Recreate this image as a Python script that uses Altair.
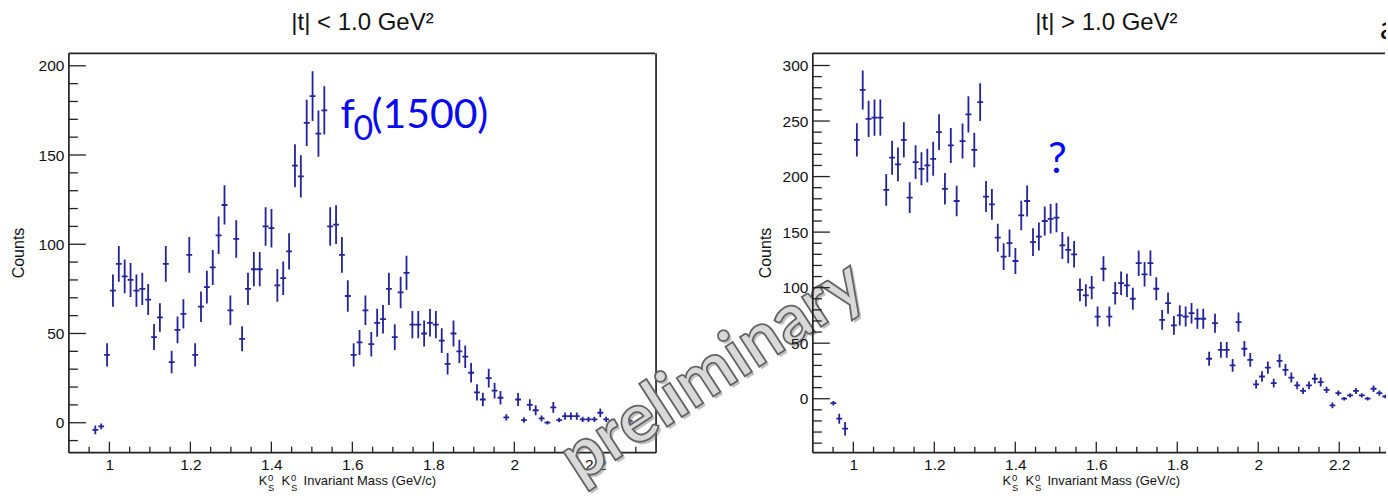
import altair as alt
import pandas as pd

# K0s K0s invariant-mass histogram binning (GeV/c)
BIN_LO = 0.9
BIN_WIDTH = 0.0145

# |t| < 1.0 GeV^2 : bin contents and errors, first entry is bin 4 (None = empty bin)
LOW_T_FIRST_BIN = 4
LOW_T_COUNTS = [
    -4, -2, 38, 74, 89, 82, 80, 74, 75, 69,
    48, 59, 89, 34, 52, 61, 94, 38, 65, 76,
    87, 105, 122, 63, 103, 47, 75, 86, 86, 110,
    109, 77, 81, 96, 144, 138, 168, 183, 162, 175,
    110, 111, 94, 71, 38, 45, 63, 44, 56, 58,
    75, 48, 73, 84, 55, 55, 50, 56, 55, 46,
    33, 50, 40, 37, 28, 17, 13, 25, 18, 14,
    3, None, 13, 1.5, 10, 7, 2.4, 0, 8.6, 1.5,
    3.7, 3.7, 3.7, 1.9, 1.9, 1.9, 5.6, 1.9, 1, None,
    None, 1,
]
LOW_T_ERRORS = [
    2.5, 1.6, 6.5, 9, 10, 9.5, 9.5, 9, 9, 8.7,
    7.3, 8, 10, 6.3, 7.5, 8.2, 10, 6.5, 8.5, 9.2,
    9.8, 10.5, 11, 8.3, 10.5, 7, 9, 9.6, 9.6, 10.8,
    10.8, 9.2, 9.4, 10.2, 12, 11.8, 13, 14, 13, 13.5,
    10.8, 10.8, 10, 8.8, 6.5, 7, 8.3, 6.9, 7.8, 8,
    9, 7.2, 8.8, 9.5, 7.6, 7.6, 7.3, 7.7, 7.6, 7,
    6, 7.3, 6.5, 6.3, 5.5, 4.5, 3.8, 5.2, 4.4, 3.8,
    1.8, None, 3.6, 1.5, 3.2, 2.8, 1.7, 1, 3, 1.3,
    2, 2, 2, 1.5, 1.5, 1.5, 2.4, 1.5, 1.2, None,
    None, 1.2,
]

# |t| > 1.0 GeV^2 : first entry is bin 3
HIGH_T_FIRST_BIN = 3
HIGH_T_COUNTS = [
    -4, -18, -27, None, 233, 278, 252, 253, 253, 188,
    217, 211, 233, 181, 213, 207, 210, 216, 240, 189,
    228, 178, 232, 256, 224, 267, 182, 175, 145, 128,
    140, 124, 165, 178, 141, 146, 160, 162, 163, 138,
    134, 130, 98, 93, 100, 74, 117, 74, 95, 104,
    102, 90, 122, 112, 122, 99, 71, 86, 66, 75,
    74, 77, 72, 72, 36, 68, 44, 44, 30, 69,
    45, 35, 13, 20, 28, 14, 34, 26, 19, 12,
    7, 12, 18, 15, 8, -6, 5, 0, 3, 7,
    3, 0, 9, 5, 2,
]
HIGH_T_ERRORS = [
    2, 4.5, 6, None, 15, 17.5, 16.3, 16.3, 16.3, 14.3,
    15.3, 15.1, 15.8, 13.9, 15.2, 14.9, 15, 15.3, 16, 14.2,
    15.7, 13.8, 15.8, 16.4, 15.5, 17, 14, 13.8, 12.6, 12,
    12.4, 11.7, 13.3, 13.9, 12.4, 12.6, 13.1, 13.2, 13.2, 12.2,
    12, 11.9, 10.3, 10, 10.4, 9, 11.2, 9, 10.1, 10.6,
    10.5, 9.9, 11.5, 11, 11.5, 10.4, 8.8, 9.6, 8.5, 9.1,
    9, 9.2, 8.9, 8.9, 6.3, 8.6, 7, 7, 5.7, 8.6,
    7, 6.2, 3.8, 4.7, 5.5, 4, 6, 5.3, 4.5, 3.5,
    2.8, 3.5, 4.4, 4, 2.8, 2.5, 2.4, 1.5, 2, 2.7,
    2, 1.5, 3, 2.3, 1.5,
]

MASS_TICKS = [1.0, 1.2, 1.4, 1.6, 1.8, 2.0, 2.2]
MASS_MINOR_TICKS = [0.95, 1.05, 1.1, 1.15, 1.25, 1.3, 1.35, 1.45, 1.5, 1.55,
                    1.65, 1.7, 1.75, 1.85, 1.9, 1.95, 2.05, 2.1, 2.15, 2.25,
                    2.3, 2.35]
LOW_T_COUNT_TICKS = [0, 50, 100, 150, 200]
HIGH_T_COUNT_TICKS = [0, 50, 100, 150, 200, 250, 300]

MARK_COLOR = "#22229c"
FRAME_COLOR = "#222222"
NOTE_COLOR = "#0a0af0"
FONT = "Liberation Sans"

VIEW_H = 435      # view height; the plot frame spans FRAME_TOP..VIEW_H
FRAME_TOP = 35
ONE = pd.DataFrame({"k": [0]})


def histogram_frame(first_bin, counts, errors):
    rows = []
    for k, (c, e) in enumerate(zip(counts, errors)):
        if c is None:
            continue
        edge = BIN_LO + (first_bin + k) * BIN_WIDTH
        rows.append({"mass": edge + BIN_WIDTH / 2, "xlo": edge, "xhi": edge + BIN_WIDTH,
                     "count": c, "lo": c - e, "hi": c + e})
    return pd.DataFrame(rows)


def label(text, x, y, size, color="#111111", font=FONT, align="left", angle=0,
          baseline="alphabetic", clip=False, weight="normal"):
    kw = dict(font=font, fontSize=size, color=color, align=align, baseline=baseline,
              fontWeight=weight)
    if angle:
        kw["angle"] = angle
    if clip:
        kw["clip"] = True
    return alt.Chart(ONE).mark_text(**kw).encode(
        x=alt.value(x), y=alt.value(y), text=alt.value(text))


def panel(df, x_max, width, y_domain, count_ticks, title, counts_x, right_border, extras):
    xs = alt.Scale(domain=[BIN_LO, x_max], nice=False, zero=False)
    ys = alt.Scale(domain=y_domain, nice=False, zero=False, range=[VIEW_H, FRAME_TOP])

    x_axis = alt.Axis(values=MASS_TICKS, format="~g", title=None, ticks=False, tickSize=0,
                      domain=False, grid=False, labelFont=FONT, labelFontSize=15.5,
                      labelColor="#111111", labelPadding=5, labelFlush=False,
                      labelOverlap=False)
    y_axis = alt.Axis(values=count_ticks, format="d", title=None, ticks=False, tickSize=0,
                      domain=False, grid=False, labelFont=FONT, labelFontSize=15.5,
                      labelColor="#111111", labelPadding=5, labelOverlap=False)

    vbars = alt.Chart(df).mark_rule(color=MARK_COLOR, strokeWidth=1.8, clip=True).encode(
        x=alt.X("mass:Q", scale=xs, axis=x_axis),
        y=alt.Y("lo:Q", scale=ys, axis=y_axis),
        y2="hi:Q",
    )
    hbars = alt.Chart(df).mark_rule(color=MARK_COLOR, strokeWidth=1.8, clip=True).encode(
        x=alt.X("xlo:Q", scale=xs, axis=x_axis),
        x2="xhi:Q",
        y=alt.Y("count:Q", scale=ys, axis=y_axis),
    )

    minor_x = [v for v in MASS_MINOR_TICKS if v < x_max]
    minor_y = [v for v in range(-40, 310, 10)
               if y_domain[0] < v < y_domain[1] and v not in count_ticks]

    # ticks point inwards from the frame
    def xticks(values, length):
        return alt.Chart(pd.DataFrame({"v": values})).mark_rule(
            color=FRAME_COLOR, strokeWidth=1.3).encode(
            x=alt.X("v:Q", scale=xs, axis=x_axis),
            y=alt.value(VIEW_H), y2=alt.value(VIEW_H - length))

    def yticks(values, length):
        return alt.Chart(pd.DataFrame({"v": values})).mark_rule(
            color=FRAME_COLOR, strokeWidth=1.3).encode(
            y=alt.Y("v:Q", scale=ys, axis=y_axis),
            x=alt.value(0), x2=alt.value(length))

    def frame_line(x, x2, y, y2):
        return alt.Chart(ONE).mark_rule(color=FRAME_COLOR, strokeWidth=1.7).encode(
            x=alt.value(x), x2=alt.value(x2), y=alt.value(y), y2=alt.value(y2))

    layers = [
        vbars, hbars,
        xticks(MASS_TICKS, 11), xticks(minor_x, 6),
        yticks(count_ticks, 17), yticks(minor_y, 9),
        frame_line(0, width - 1, FRAME_TOP, FRAME_TOP),
        frame_line(0, width, VIEW_H, VIEW_H),
        frame_line(0, 0, FRAME_TOP, VIEW_H),
    ]
    if right_border:
        layers.append(frame_line(width, width, FRAME_TOP, VIEW_H))

    # titles drawn as text so that sub/superscripts can be stacked
    layers += [
        label(title, 294, 12, 24, align="center"),
        label("Counts", counts_x, (FRAME_TOP + VIEW_H) / 2, 16, angle=270,
              align="center", baseline="middle"),
        label("K", 190, VIEW_H + 32, 13),
        label("0", 199.5, VIEW_H + 28, 9.5),
        label("S", 199.5, VIEW_H + 38, 9.5),
        label("K", 213, VIEW_H + 32, 13),
        label("0", 222.5, VIEW_H + 28, 9.5),
        label("S", 222.5, VIEW_H + 38, 9.5),
        label("Invariant Mass (GeV/c)", 235, VIEW_H + 32, 13),
    ]
    layers += extras
    return alt.layer(*layers).properties(width=width, height=VIEW_H)


low_df = histogram_frame(LOW_T_FIRST_BIN, LOW_T_COUNTS, LOW_T_ERRORS)
high_df = histogram_frame(HIGH_T_FIRST_BIN, HIGH_T_COUNTS, HIGH_T_ERRORS)

# "preliminary" stamp: soft shadow underneath an outlined grey word
WM_X, WM_Y = 645, 354
WM_STYLE = dict(font="Lato", fontSize=69, fontWeight="bold", angle=327,
                align="center", baseline="middle")
watermark = [
    alt.Chart(ONE).mark_text(fill="#7a7a7a", opacity=0.45, **WM_STYLE).encode(
        x=alt.value(WM_X + 2.5), y=alt.value(WM_Y + 2.5), text=alt.value("preliminary")),
    alt.Chart(ONE).mark_text(fill="#d9d9d9", stroke="#646464", strokeWidth=1.8,
                             **WM_STYLE).encode(
        x=alt.value(WM_X), y=alt.value(WM_Y), text=alt.value("preliminary")),
]

low_notes = [
    label("f", 272, 110, 41, color=NOTE_COLOR, font="Lato"),
    label("0", 285, 122, 34, color=NOTE_COLOR, font="Lato"),
    label("(1500)", 303, 110, 41, color=NOTE_COLOR, font="Lato"),
] + watermark

high_notes = [
    label("?", 245, 155, 42, color=NOTE_COLOR, font="Lato", align="center"),
    label("a", 568, 21, 33, font="Lato", clip=True),
]

low_panel = panel(low_df, 2.35, 588, [-16.8, 207], LOW_T_COUNT_TICKS,
                  "|t| < 1.0 GeV²", -49.5, True, low_notes)
high_panel = panel(high_df, 0.9 + 574 / 405.5, 574, [-48.6, 311], HIGH_T_COUNT_TICKS,
                   "|t| > 1.0 GeV²", -46.5, False, high_notes)

chart = alt.hconcat(low_panel, high_panel, spacing=157, bounds="flush").configure_view(
    stroke="transparent"
).properties(
    padding={"left": 11, "top": 10, "right": 0, "bottom": 0},
    background="white",
)

chart.save("out.html", embed_options={"renderer": "svg", "actions": False})
